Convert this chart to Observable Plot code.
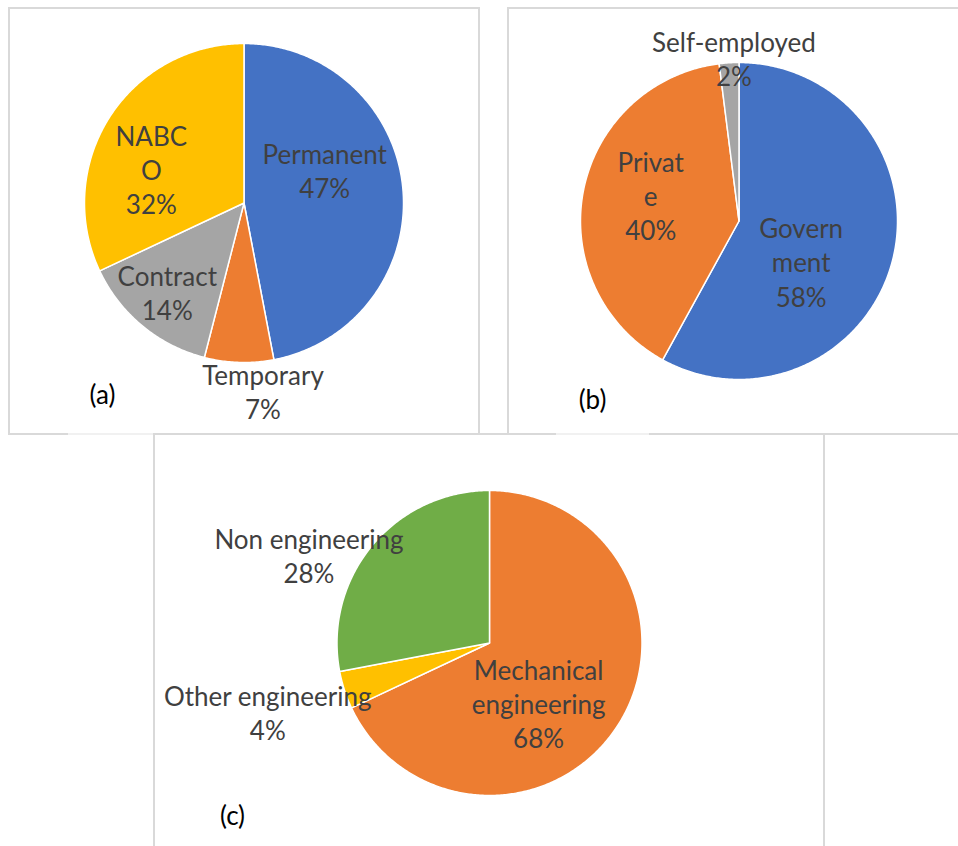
<!DOCTYPE html>
<html>
<head>
<meta charset="utf-8">
<script src="https://cdn.jsdelivr.net/npm/d3@7"></script>
<script src="https://cdn.jsdelivr.net/npm/@observablehq/plot@0.6"></script>
<style>
  html, body { margin: 0; padding: 0; background: #fff; }
  #page { position: relative; width: 958px; height: 846px; overflow: hidden; font-family: Lato, sans-serif; }
  .panel { position: absolute; }
  .rule { position: absolute; background: #d9d9d9; }
  .rule.faint { background: #f1f1f1; }
</style>
</head>
<body>
<div id="page"></div>
<script>
// (a) Type of employment
const employmentTypes = ["Permanent", "Temporary", "Contract", "NABCO"];
const employmentShares = [47, 7, 14, 32];
const employmentLabels = ["Permanent", "Temporary", "Contract", "NABC\nO"];
const employmentColors = ["#4472C4", "#ED7D31", "#A5A5A5", "#FFC000"];

// (b) Employment sector
const sectors = ["Government", "Private", "Self-employed"];
const sectorShares = [58, 40, 2];
const sectorLabels = ["Govern\nment", "Privat\ne", "Self-employed"];
const sectorColors = ["#4472C4", "#ED7D31", "#A5A5A5"];

// (c) Field of work
const fields = ["Mechanical engineering", "Other engineering", "Non engineering"];
const fieldShares = [68, 4, 28];
const fieldLabels = ["Mechanical\nengineering", "Other engineering", "Non engineering"];
const fieldColors = ["#ED7D31", "#FFC000", "#70AD47"];

const page = document.getElementById("page");

// Panel frames (light grey rules)
const rules = [
  // panel (a)
  [8, 7, 2, 428], [8, 7, 471, 2], [478, 7, 2, 428],
  // panel (b)
  [507, 7, 2, 428], [507, 7, 460, 2],
  // shared bottom / top rule
  [8, 433, 60, 2], [153, 433, 403, 2], [649, 433, 320, 2],
  // panel (c)
  [153, 433, 2, 420], [823, 433, 2, 420]
];
const faintRules = [[68, 433, 85, 2], [556, 433, 93, 2]];
function addRule([l, t, w, h], cls) {
  const d = document.createElement("div");
  d.className = cls;
  Object.assign(d.style, {left: l + "px", top: t + "px", width: w + "px", height: h + "px"});
  page.appendChild(d);
}
rules.forEach(r => addRule(r, "rule"));
faintRules.forEach(r => addRule(r, "rule faint"));

// Build wedge outlines (unit circle, clockwise from 12 o'clock, y up)
function wedges(names, shares) {
  const total = d3.sum(shares);
  const pts = [];
  let cum = 0;
  names.forEach((name, i) => {
    const a0 = cum / total * 2 * Math.PI;
    cum += shares[i];
    const a1 = cum / total * 2 * Math.PI;
    const n = Math.max(2, Math.ceil((a1 - a0) / 0.01));
    pts.push({name, x: 0, y: 0});
    for (let k = 0; k <= n; k++) {
      const a = a0 + (a1 - a0) * k / n;
      pts.push({name, x: Math.sin(a), y: Math.cos(a)});
    }
  });
  return pts;
}

function pie({left, top, width, height, cx, cy, r, names, shares, labels, colors, labelAt, tag, tagAt}) {
  const rows = names.map((name, i) => ({
    name,
    text: `${labels[i]}\n${shares[i]}%`,
    x: labelAt[i][0],
    y: labelAt[i][1]
  }));
  const chart = Plot.plot({
    width, height,
    margin: 0,
    x: {domain: [-cx / r, (width - cx) / r], axis: null},
    y: {domain: [-(height - cy) / r, cy / r], axis: null},
    color: {type: "ordinal", domain: names, range: colors},
    style: {background: "transparent", overflow: "visible", fontFamily: "Lato, sans-serif"},
    marks: [
      Plot.line(wedges(names, shares), {
        x: "x", y: "y", z: "name", fill: "name",
        stroke: "white", strokeWidth: 1.5, strokeLinejoin: "round",
        curve: "linear-closed"
      }),
      Plot.text(rows, {
        x: "x", y: "y", text: "text",
        fill: "#404040", fontSize: 26, lineHeight: 1.31,
        fontFamily: "Lato, sans-serif"
      }),
      Plot.text([tag], {
        frameAnchor: "top-left", dx: tagAt[0], dy: tagAt[1],
        text: d => d, fill: "#000", fontSize: 26, textAnchor: "middle",
        lineAnchor: "middle", fontFamily: "Lato, sans-serif"
      })
    ]
  });
  const wrap = document.createElement("div");
  wrap.className = "panel";
  Object.assign(wrap.style, {left: left + "px", top: top + "px", width: width + "px", height: height + "px"});
  wrap.appendChild(chart);
  page.appendChild(wrap);
}

pie({
  left: 8, top: 7, width: 471, height: 427, cx: 235.5, cy: 195.5, r: 159.5,
  names: employmentTypes, shares: employmentShares, labels: employmentLabels, colors: employmentColors,
  labelAt: [[0.506, 0.205], [0.119, -1.18], [-0.481, -0.556], [-0.581, 0.215]],
  tag: "(a)", tagAt: [94, 388]
});

pie({
  left: 507, top: 7, width: 451, height: 427, cx: 231.5, cy: 213.5, r: 158.5,
  names: sectors, shares: sectorShares, labels: sectorLabels, colors: sectorColors,
  labelAt: [[0.392, -0.256], [-0.557, 0.162], [-0.032, 1.028]],
  tag: "(b)", tagAt: [85, 393]
});

pie({
  left: 153, top: 434, width: 671, height: 412, cx: 336, cy: 208.5, r: 152.5,
  names: fields, shares: fieldShares, labels: fieldLabels, colors: fieldColors,
  labelAt: [[0.322, -0.392], [-1.454, -0.451], [-1.184, 0.575]],
  tag: "(c)", tagAt: [79, 382]
});
</script>
</body>
</html>
